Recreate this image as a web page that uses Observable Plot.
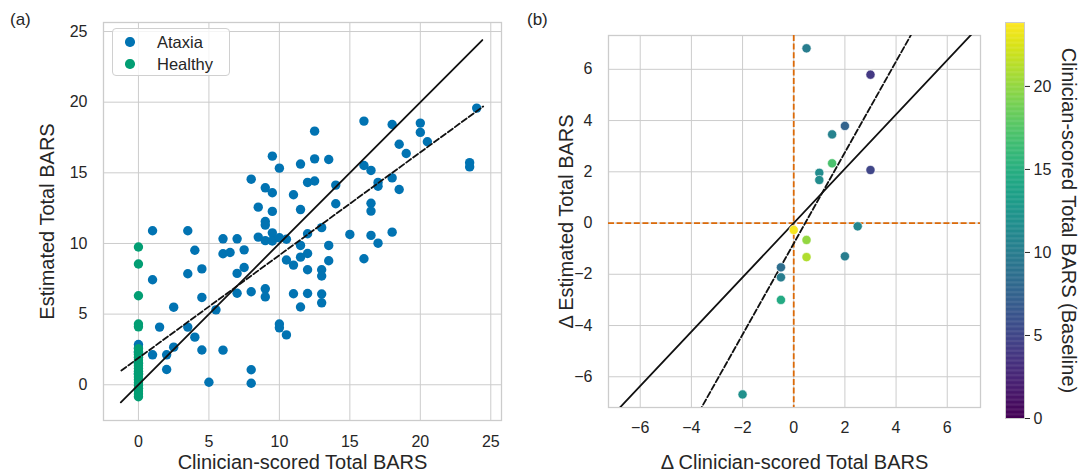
<!DOCTYPE html>
<html><head><meta charset="utf-8">
<script src="https://cdn.jsdelivr.net/npm/d3@7"></script>
<script src="https://cdn.jsdelivr.net/npm/@observablehq/plot@0.6"></script>
<style>
body{margin:0;background:#fff;}
#fig{position:relative;width:1081px;height:473px;font-family:"Liberation Sans",Arial,sans-serif;color:#262626;overflow:hidden;}
</style></head><body><div id="fig"></div>
<script>
// ---------- Panel (a) data ----------
const ataxiaClin = [0,0,0,0,0, 1,1,1, 1.5, 2,2, 2.5,2.5, 3.5,3.5,3.5, 4,4, 4.5,4.5,4.5, 5, 5.5, 6,6,6, 6.5, 7,7,7, 7.5,7.5,
  8,8,8,8, 8.5,8.5, 9,9,9,9,9,9, 9.5,9.5,9.5,9.5,9.5, 10,10,10,10, 10.5,10.5,10.5, 11,11,11,
  11.5,11.5,11.5,11.5,11.5, 12,12,12,12,12, 12.5,12.5,12.5, 13,13,13,13,13, 13.5,13.5,13.5, 14,14, 15,
  16,16,16, 16.5,16.5,16.5,16.5, 17,17,17, 18,18,18, 18.5,18.5, 19, 20,20, 20.5, 23.5,23.5, 24];
const ataxiaEst = [2.85,2.6,2.3,1.5,0.8, 10.9,7.43,2.12, 4.08, 2.12,1.08, 5.49,2.66, 10.9,7.86,4.08, 9.52,3.37, 8.2,6.18,2.46, 0.18, 5.3, 10.33,9.27,2.45, 9.36, 10.33,7.88,6.48, 9.55,8.3,
  14.55,6.58,1.06,0.11, 12.57,10.45, 13.94,11.55,11.3,10.2,6.79,6.22, 16.18,13.59,12.27,10.75,10.18, 15.33,10.4,4.3,4.03, 10.3,8.83,3.53, 13.45,8.47,6.44,
  15.62,12.4,9.86,9.03,5.5, 14.32,10.69,9.29,8.14,6.46, 17.95,15.99,14.42, 11.12,8.14,7.7,6.42,5.8, 15.94,9.86,8.78, 14.13,12.81, 10.64,
  18.66,15.52,8.92, 15.17,12.85,12.29,10.57, 14.32,14.05,10.02, 18.42,14.64,10.8, 17.02,13.82, 16.37, 18.52,17.86, 17.2, 15.72,15.42, 19.58];
const healthyEst = [9.75,8.55,6.3,4.3,4.1,2.55,2.35,2.15,1.95,1.75,1.55,1.35,1.15,0.95,0.75,0.55,0.35,0.15,-0.05,-0.25,-0.45,-0.65,-0.85];
const healthyClin = healthyEst.map(() => 0);
const identityA = [[-1.25,-1.25],[24.4,24.4]];
const regressionA = [[-1.21,1.01],[24.46,19.7]];
const ticksA = [0,5,10,15,20,25];
const groups = ["Ataxia","Healthy"];
const groupColors = ["#0173b2","#029e73"];

// ---------- Panel (b) data ----------
const deltaClin = [0.5,3,2,1.5,1.5,1,1,3,2.5,0,0.5,0.5,2,-0.5,-0.5,-0.5,-2];
const deltaEst = [6.82,5.79,3.79,3.46,2.33,1.96,1.68,2.07,-0.13,-0.27,-0.66,-1.33,-1.30,-1.73,-2.12,-3.0,-6.69];
const baseline = [10,4,7.5,10.5,17,11.5,11.5,5,11,23.5,20,21,10,8.5,10,14.5,12];
const solidB = [[-7.5,-7.95],[7.5,7.95]];
const dashedB = [[-4.2,-8.26],[5.2,8.44]];
const ticksB = [-6,-4,-2,0,2,4,6];
const cbTicks = [0,5,10,15,20];
const cbDomain = [0,23.85];

const fig = document.getElementById("fig");
const FONT = '"Liberation Sans", Arial, sans-serif';
const TXT = "#262626";
const GRID = "#cccccc";
const LABEL = 20;
const DASH = "6,2.6";
function place(el, left, top){ el.style.position="absolute"; el.style.left=left+"px"; el.style.top=top+"px"; fig.appendChild(el); return el; }
const svgStyle = {fontFamily:FONT, fontSize:"16px", color:TXT, background:"transparent", maxWidth:"none", overflow:"visible"};

// ---------- Panel (a) ----------
const ia = d3.range(ataxiaClin.length);
const ih = d3.range(healthyEst.length);
const plotA = Plot.plot({
  width:520, height:473, marginLeft:103, marginRight:19, marginTop:22, marginBottom:53,
  style:svgStyle,
  x:{domain:[-2.48,25.76]},
  y:{domain:[-2.53,25.64]},
  marks:[
    Plot.gridX(ticksA,{stroke:GRID, strokeOpacity:1, strokeWidth:1}),
    Plot.gridY(ticksA,{stroke:GRID, strokeOpacity:1, strokeWidth:1}),
    Plot.frame({stroke:GRID, strokeWidth:1.3}),
    Plot.axisX(ticksA,{tickSize:0, tickPadding:15, label:null, fontSize:16, fill:TXT}),
    Plot.axisY(ticksA,{tickSize:0, tickPadding:16, label:null, fontSize:16, fill:TXT}),
    Plot.dot(ia,{x:i=>ataxiaClin[i], y:i=>ataxiaEst[i], r:4.7, fill:groupColors[0]}),
    Plot.dot(ih,{x:i=>healthyClin[i], y:i=>healthyEst[i], r:4.7, fill:groupColors[1]}),
    Plot.line(identityA,{x:d=>d[0], y:d=>d[1], stroke:"#111", strokeWidth:1.8}),
    Plot.line(regressionA,{x:d=>d[0], y:d=>d[1], stroke:"#111", strokeWidth:1.8, strokeDasharray:DASH}),
    Plot.text(["Clinician-scored Total BARS"],{frameAnchor:"bottom", dy:42, lineAnchor:"middle", textAnchor:"middle", fontSize:LABEL, fill:TXT}),
    Plot.text(["Estimated Total BARS"],{frameAnchor:"left", dx:-56, rotate:-90, lineAnchor:"middle", textAnchor:"middle", fontSize:LABEL, fill:TXT})
  ]
});
place(plotA,0,0);

// ---------- Panel (b) ----------
const ib = d3.range(deltaClin.length);
const plotB = Plot.plot({
  width:470, height:473, marginLeft:88, marginRight:10, marginTop:35, marginBottom:66,
  style:svgStyle,
  x:{domain:[-7.24,7.3]},
  y:{domain:[-7.2,7.32]},
  color:{type:"linear", scheme:"viridis", domain:cbDomain},
  marks:[
    Plot.gridX(ticksB,{stroke:GRID, strokeOpacity:1, strokeWidth:1}),
    Plot.gridY(ticksB,{stroke:GRID, strokeOpacity:1, strokeWidth:1}),
    Plot.frame({stroke:GRID, strokeWidth:1.3}),
    Plot.axisX(ticksB,{tickSize:0, tickPadding:14, label:null, fontSize:16, fill:TXT}),
    Plot.axisY(ticksB,{tickSize:0, tickPadding:16, label:null, fontSize:16, fill:TXT}),
    Plot.ruleY([0],{stroke:"#dc6a08", strokeWidth:1.8, strokeDasharray:DASH}),
    Plot.ruleX([0],{stroke:"#dc6a08", strokeWidth:1.8, strokeDasharray:DASH}),
    Plot.line(solidB,{x:d=>d[0], y:d=>d[1], stroke:"#111", strokeWidth:1.8, clip:true}),
    Plot.line(dashedB,{x:d=>d[0], y:d=>d[1], stroke:"#111", strokeWidth:1.8, strokeDasharray:DASH, clip:true}),
    Plot.dot(ib,{x:i=>deltaClin[i], y:i=>deltaEst[i], fill:i=>baseline[i], r:4.6, stroke:"white", strokeWidth:0.6}),
    Plot.text(["Δ Clinician-scored Total BARS"],{frameAnchor:"bottom", dy:55, lineAnchor:"middle", textAnchor:"middle", fontSize:LABEL, fill:TXT}),
    Plot.text(["Δ Estimated Total BARS"],{frameAnchor:"left", dx:-42, rotate:-90, lineAnchor:"middle", textAnchor:"middle", fontSize:LABEL, fill:TXT})
  ]
});
place(plotB,520,0);

// ---------- Colorbar ----------
const step = 0.05;
const cbSteps = d3.range(cbDomain[0], cbDomain[1], step);
const plotC = Plot.plot({
  width:91, height:473, marginLeft:15, marginRight:57, marginTop:22, marginBottom:55,
  style:svgStyle,
  x:{domain:[0,1], axis:null},
  y:{domain:cbDomain},
  color:{type:"linear", scheme:"viridis", domain:cbDomain},
  marks:[
    Plot.rect(cbSteps,{x1:0, x2:1, y1:d=>d, y2:d=>Math.min(d+step*1.5, cbDomain[1]), fill:d=>d+step/2}),
    Plot.frame({stroke:GRID, strokeWidth:1}),
    Plot.axisY(cbTicks,{anchor:"right", tickSize:5, tickPadding:4, label:null, fontSize:16, fill:TXT, stroke:TXT}),
    Plot.text(["Clinician-scored Total BARS (Baseline)"],{frameAnchor:"right", dx:44, rotate:90, lineAnchor:"middle", textAnchor:"middle", fontSize:LABEL, fill:TXT})
  ]
});
place(plotC,990,0);

// ---------- Panel letters ----------
function label(txt,left,top){ const d=document.createElement("div"); d.textContent=txt; d.style.fontSize="17px"; d.style.lineHeight="1"; return place(d,left,top); }
label("(a)",10,11);
label("(b)",527,11);

// ---------- Legend ----------
const lg = document.createElement("div");
lg.style.width="116px"; lg.style.height="46px"; lg.style.border="1px solid #d0d0d0"; lg.style.borderRadius="4px"; lg.style.background="rgba(255,255,255,0.8)";
place(lg,112,28);
groups.forEach((g,k)=>{
  const dot=document.createElement("div");
  dot.style.width="9.4px"; dot.style.height="9.4px"; dot.style.borderRadius="50%"; dot.style.background=groupColors[k];
  place(dot,125.3,37.3+k*22);
  const t=document.createElement("div"); t.textContent=g; t.style.fontSize="16.5px"; t.style.lineHeight="1";
  place(t,157,34+k*22);
});
</script></body></html>
